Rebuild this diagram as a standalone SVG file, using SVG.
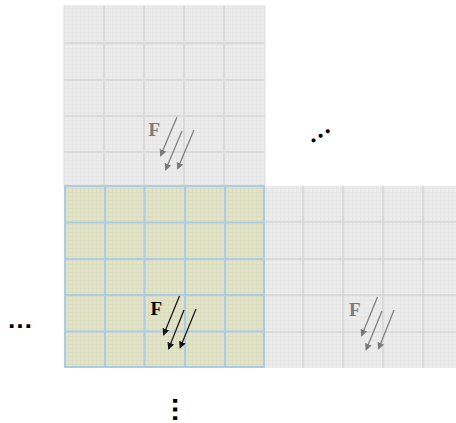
<svg xmlns="http://www.w3.org/2000/svg" width="456" height="423" viewBox="0 0 456 423">
<defs>
<style>
.gbg{fill:#ececec}
.ybg{fill:#e1e4c8}
.gmaj{stroke:#dadada;stroke-width:2;fill:none}
.ymaj{stroke:#aecbe6;stroke-width:2.2;fill:none}
.fv{font-family:"Liberation Serif",serif;font-weight:bold;font-size:19px}
.ag{stroke:#7a7a7a;stroke-width:1.2;fill:none;marker-end:url(#hg)}
.ab{stroke:#111;stroke-width:1.2;fill:none;marker-end:url(#hb)}
.dots{font-family:"Liberation Sans",sans-serif;font-weight:bold;fill:#000}
.rdots{font-family:"Liberation Serif",serif;font-weight:bold;fill:#000}
</style>
<pattern id="fineG" width="4" height="4" patternUnits="userSpaceOnUse">
<path d="M0 0.5H4M0.5 0V4" stroke="#e2e2e2" stroke-width="0.6"/>
</pattern>
<pattern id="fineY" width="4" height="4" patternUnits="userSpaceOnUse">
<path d="M0 0.5H4M0.5 0V4" stroke="#d6d9bb" stroke-width="0.6"/>
</pattern>
<marker id="hg" viewBox="0 0 10 10" refX="9" refY="5" markerWidth="7" markerHeight="7" markerUnits="userSpaceOnUse" orient="auto"><path d="M0 0L10 5L0 10Z" fill="#7a7a7a"/></marker>
<marker id="hb" viewBox="0 0 10 10" refX="9" refY="5" markerWidth="7" markerHeight="7" markerUnits="userSpaceOnUse" orient="auto"><path d="M0 0L10 5L0 10Z" fill="#111"/></marker>
</defs>
<rect width="456" height="423" fill="#fff"/>
<g id="block-top">
<rect class="gbg" x="64" y="6" width="201" height="180"/>
<rect fill="url(#fineG)" x="64" y="6" width="201" height="180"/>
<path class="gmaj" d="M104 6V186M144 6V186M184 6V186M224 6V186M64 43H265M64 80H265M64 116H265M64 152H265"/>
<path d="M64 6H265M64 6V186M265 6V186" stroke="#e0e0e0" stroke-width="1" fill="none"/>
<text class="fv" x="148.5" y="135.5" fill="#7a7a7a">F</text>
</g>
<g id="block-right">
<rect class="gbg" x="265" y="186" width="191" height="182"/>
<rect fill="url(#fineG)" x="265" y="186" width="191" height="182"/>
<path class="gmaj" d="M303 186V368M343 186V368M383 186V368M423 186V368M265 222H456M265 259H456M265 295H456M265 332H456"/>
<text class="fv" x="349" y="315.5" fill="#7a7a7a">F</text>
</g>
<g id="block-center">
<rect class="ybg" x="64" y="186" width="201" height="182"/>
<rect fill="url(#fineY)" x="64" y="186" width="201" height="182"/>
<path class="ymaj" d="M64 186H265M64 222.5H265M64 259H265M64 295H265M64 331.5H265M64 367H265M65 186V368M105 186V368M144.5 186V368M185 186V368M225 186V368M264 186V368"/>
<text class="fv" x="150.5" y="314.5" fill="#000">F</text>
</g>
<g id="connectors">
<path class="ag" d="M177 117L160.5 156"/>
<path class="ag" d="M182 131L165.5 170"/>
<path class="ag" d="M194 130L177.5 169"/>
<path class="ab" d="M179.5 296L163.5 335"/>
<path class="ab" d="M184 310L168.5 349"/>
<path class="ab" d="M196 309L180 348"/>
<path class="ag" d="M377.5 297L361.5 336"/>
<path class="ag" d="M382 311L366 350"/>
<path class="ag" d="M394 310L378.5 349"/>
</g>
<g id="ellipses">
<text class="dots" x="7" y="328" font-size="26">…</text>
<text class="dots" transform="translate(173,396) rotate(90)" x="0" y="0" font-size="27">…</text>
<text class="rdots" transform="translate(311,144) rotate(-33)" x="0" y="0" font-size="25">…</text>
</g>
</svg>
